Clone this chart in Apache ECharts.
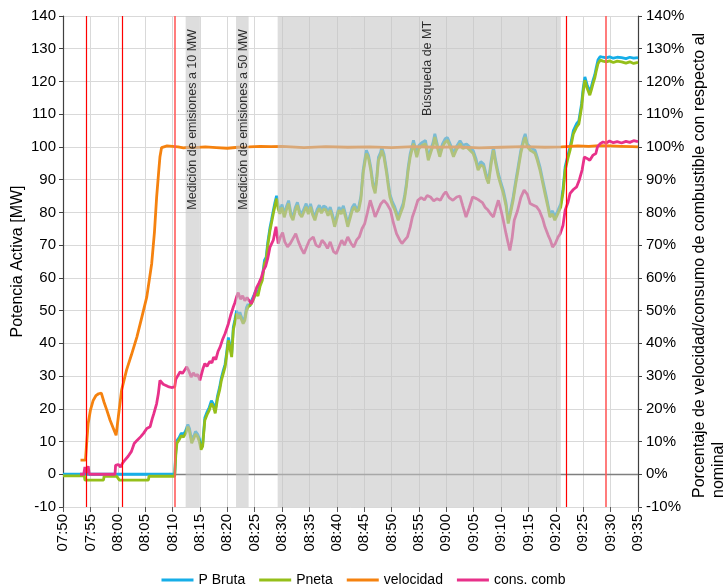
<!DOCTYPE html>
<html>
<head>
<meta charset="utf-8">
<script src="https://cdn.jsdelivr.net/npm/echarts@6/dist/echarts.min.js"></script>
<style>html,body{margin:0;padding:0;background:#fff}#c{width:727px;height:587px}</style>
</head>
<body>
<div id="c"></div>
<script>
// x values: minutes after 07:50
const xTickLabels = ['07:50','07:55','08:00','08:05','08:10','08:15','08:20','08:25','08:30','08:35','08:40','08:45','08:50','08:55','09:00','09:05','09:10','09:15','09:20','09:25','09:30','09:35'];
const yLeftTicks = [-10,0,10,20,30,40,50,60,70,80,90,100,110,120,130,140];

const pNeta = [[0,-0.5],[3.9,-0.5],[4.0,-1.8],[7.4,-1.8],[7.5,-0.6],[9.8,-0.6],[10.3,-1.8],[15.6,-1.8],[15.7,-0.6],[20.4,-0.6],
[20.6,6],[20.8,9.5],[21.2,10.5],[21.6,11.8],[22.0,11.4],[22.4,12.5],[22.8,14.5],[23.1,13.2],[23.5,9.5],[23.9,11.0],[24.2,12.3],[24.6,11.4],[24.9,10],[25.2,7.5],[25.5,8.5],[25.9,16.5],[26.3,18.2],[26.7,19.5],[27.1,21.6],[27.5,20.5],[27.8,18.6],[28.2,23],[28.6,25.7],[28.9,28.5],[29.3,31],[29.6,32.8],[29.9,36.5],[30.2,40.9],[30.5,38.5],[30.8,35.8],[31.1,44],[31.4,46.5],[31.7,49.1],[32.0,47.5],[32.3,48.6],[32.6,47.2],[32.9,46],[33.2,47],[33.5,50],[33.8,51.1],[34.1,50.5],[34.4,52.1],[34.8,53.5],[35.2,55.2],[35.6,54.5],[36.0,57.5],[36.4,59.3],[36.8,64.5],[37.1,65.4],[37.4,70],[37.8,74.5],[38.1,77],[38.4,79.6],[38.7,82],[39.0,84.2],[39.3,81],[39.6,79.6],
[40.0,81.5],[40.4,78.5],[40.8,80.8],[41.2,82.7],[41.6,79],[42.0,77.6],[42.4,80.5],[42.8,82.2],[43.2,79.5],[43.6,78.6],[44.0,80.2],[44.4,81.7],[44.8,79.5],[45.2,81.7],[45.6,79.2],[46.0,77.6],[46.4,80],[46.8,81.2],[47.2,79.8],[47.6,81],[48.0,80.7],[48.4,79],[48.8,80.7],[49.2,78.5],[49.6,75.6],[50.0,78],[50.4,80.7],[50.8,79.5],[51.2,81],[51.6,78.5],[52.0,75.6],[52.4,78],[52.8,80.5],[53.2,81.7],[53.6,80.2],[54.0,80.7],[54.4,84],[54.8,91.9],[55.1,95],[55.4,98],[55.8,96.5],[56.2,92.9],[56.6,88],[57.0,85.8],[57.3,90],[57.6,95.9],[58.0,97.5],[58.2,99],[58.6,97],[59.1,91.9],[59.4,88],[59.7,84.7],[60.1,82.5],[60.6,80.7],[61.2,77.6],[61.6,79.5],[62.1,81.7],[62.4,84.5],[62.7,87.8],[63.0,92.5],[63.4,96.9],[64.0,101],[64.6,96.9],[65.0,99.5],[65.6,100.5],[66.2,101],[66.7,95.9],[67.2,98.5],[67.6,100.5],[67.9,103],[68.4,99.5],[68.8,97],[69.3,100],[69.8,101.5],[70.2,102],[70.8,99.5],[71.3,97],[71.8,99],[72.5,101],[73.0,99.5],[73.7,100],[74.3,99],[74.9,98],[75.4,95.5],[75.8,92.9],[76.3,94.5],[76.8,93.9],[77.3,90.5],[77.7,88.8],[78.2,95],[78.6,99],[79.0,95],[79.5,90.9],[80.0,88],[80.4,85.8],[80.9,82],[81.3,76.6],[81.7,79.5],[82.2,83.7],[82.6,88],[83.1,92.9],[83.6,98],[84.1,101.5],[84.4,103],[84.8,100],[85.3,99],[85.8,98.5],[86.2,98],[86.6,96],[87.1,92.9],[87.6,89],[88.0,85.8],[88.5,82],[88.9,78.6],[89.4,79.5],[89.8,77.6],[90.2,79],[90.6,80.5],[90.9,81.7],[91.3,86],[91.7,92.9],[92.2,96.5],[92.6,99],[93.2,104],[93.8,106.1],[94.2,107],[94.7,112.2],[95.0,117],[95.3,120.4],[95.7,118],[96.2,115.8],[96.5,117.5],[96.8,119.4],[97.1,121],[97.4,123.4],[97.7,125.5],[98.1,126.5],[98.6,126.2],[99.2,126],[99.8,126.3],[100.5,125.8],[101.2,126.2],[102,126],[102.8,125.6],[103.5,126],[104.2,125.5],[105,125.8]];

const pBruta = [[0,0],[20.4,0],[20.6,7],[20.8,10.3],[21.2,11.2],[21.6,12.6],[22.0,12.1],[22.4,13.3],[22.8,15.2],[23.1,14],[23.5,10.3],[23.9,11.8],[24.2,13.1],[24.6,12.2],[24.9,10.8],[25.2,8.3],[25.5,9.2],[25.9,17.3],[26.3,19],[26.7,20.4],[27.1,22.5],[27.5,21.3],[27.8,19.4],[28.2,23.8],[28.6,26.6],[28.9,29.3],[29.3,31.9],[29.6,33.6],[29.9,37.4],[30.2,41.8],[30.5,39.3],[30.8,36.7],[31.1,44.9],[31.4,47.3],[31.7,50],[32.0,48.4],[32.3,49.5],[32.6,48],[32.9,46.9],[33.2,47.8],[33.5,50.9],[33.8,52],[34.1,51.3],[34.4,53],[34.8,54.4],[35.2,56.1],[35.6,55.3],[36.0,58.4],[36.4,60.2],[36.8,65.4],[37.1,66.3],[37.4,70.9],[37.8,75.4],[38.1,77.9],[38.4,80.5],[38.7,83],[39.0,85.1],[39.3,82],[39.6,80.5],[40.0,82.4],[40.4,79.4],[40.8,81.8],[41.2,83.6],[41.6,80],[42.0,78.5],[42.4,81.4],[42.8,83.1],[43.2,80.5],[43.6,79.5],[44.0,81.1],[44.4,82.7],[44.8,80.4],[45.2,82.6],[45.6,80.1],[46.0,78.6],[46.4,80.9],[46.8,82.2],[47.2,80.7],[47.6,82],[48.0,81.6],[48.4,80],[48.8,81.6],[49.2,79.4],[49.6,76.5],[50.0,79],[50.4,81.6],[50.8,80.4],[51.2,82],[51.6,79.4],[52.0,76.6],[52.4,78.9],[52.8,81.5],[53.2,82.6],[53.6,81.1],[54.0,81.7],[54.4,85],[54.8,92.8],[55.1,96],[55.4,99],[55.8,97.4],[56.2,93.8],[56.6,89],[57.0,86.7],[57.3,91],[57.6,96.8],[58.0,98.4],[58.2,100],[58.6,97.9],[59.1,92.8],[59.4,89],[59.7,85.6],[60.1,83.5],[60.6,81.6],[61.2,78.6],[61.6,80.4],[62.1,82.7],[62.4,85.4],[62.7,88.8],[63.0,93.4],[63.4,97.9],[64.0,102],[64.6,97.8],[65.0,100.5],[65.6,101.4],[66.2,102],[66.7,96.9],[67.2,99.4],[67.6,101.5],[67.9,104],[68.4,100.4],[68.8,98],[69.3,100.9],[69.8,102.5],[70.2,102.9],[70.8,100.5],[71.3,97.9],[71.8,100],[72.5,101.9],[73.0,100.5],[73.7,100.9],[74.3,100],[74.9,98.9],[75.4,96.5],[75.8,93.8],[76.3,95.5],[76.8,94.8],[77.3,91.5],[77.7,89.7],[78.2,96],[78.6,100],[79.0,95.9],[79.5,91.9],[80.0,88.9],[80.4,86.8],[80.9,82.9],[81.3,77.6],[81.7,80.4],[82.2,84.7],[82.6,88.9],[83.1,93.9],[83.6,98.9],[84.1,102.5],[84.4,104],[84.8,100.9],[85.3,100],[85.8,99.4],[86.2,99],[86.6,96.9],[87.1,93.9],[87.6,89.9],[88.0,86.8],[88.5,82.9],[88.9,79.6],[89.4,80.4],[89.8,78.6],[90.2,79.9],[90.6,81.5],[90.9,82.6],[91.3,87],[91.7,93.9],[92.2,97.4],[92.6,100],[93.2,105],[93.8,107.1],[94.2,108],[94.7,113.2],[95.0,118],[95.3,121.4],[95.7,119],[96.2,116.8],[96.5,118.5],[96.8,120.4],[97.1,122],[97.4,124.4],[97.7,126.6],[98.1,127.6],[98.6,127.4],[99.2,127.2],[99.8,127.5],[100.5,127.1],[101.2,127.4],[102,127.3],[102.8,127],[103.5,127.4],[104.2,127.1],[105,127.3]];

const velocidad = [[3.2,4.3],[4.1,4.3],[4.3,9],[4.6,15.6],[5.0,19.5],[5.5,22.5],[6.0,24],[6.5,24.6],[7.0,24.8],[7.5,22],[8.0,19.6],[8.6,16.5],[9.2,14],[9.7,11.9],[10.1,17.5],[10.7,25.7],[11.6,31.8],[12.5,36.5],[13.5,42],[14.4,48],[15.3,54.2],[16.2,64.4],[16.7,74],[17.1,84.7],[17.5,93],[17.7,96.9],[18.0,99.8],[18.2,100.2],[19,100.3],[20,100.2],[21,100],[22,99.7],[23,99.9],[24,99.8],[26,100],[28,99.8],[30,99.6],[32,99.9],[34,100],[36,100.2],[38,100.1],[40,100.2],[44,99.8],[48,100.1],[52,99.9],[56,100],[60,99.8],[64,100.1],[68,99.9],[72,100],[76,99.7],[80,99.9],[84,100.1],[88,99.9],[91,100],[92,100.1],[94,100.3],[96,100.2],[98,100.4],[100,100.3],[102,100.2],[104,100.1],[105,100]];

const consComb = [[3.1,0],[3.8,0],[4.0,2.2],[4.3,0.5],[4.6,2.5],[4.8,0],[9.5,0],[9.6,2.7],[10.1,3],[10.5,2.2],[10.9,3.5],[11.3,4.3],[11.9,5.5],[12.5,7],[13.0,9.4],[13.6,10.5],[14.2,11.5],[14.7,12.5],[15.3,14],[15.9,14.5],[16.3,17],[16.6,18.6],[17.1,21.6],[17.4,24.5],[17.7,28.7],[17.9,29],[18.3,27.5],[18.6,27.2],[19.2,26.8],[19.8,26.5],[20.4,26.7],[20.6,29],[21.0,30.2],[21.4,31.3],[21.8,30.8],[22.2,31.8],[22.6,32.8],[23.0,31.5],[23.4,29.7],[23.8,31],[24.2,30],[24.6,30.5],[25.0,28.7],[25.3,29],[25.6,32.5],[25.9,33.8],[26.3,33],[26.8,34.5],[27.2,34],[27.5,35.8],[27.9,35],[28.3,37.5],[28.7,38.9],[29.1,41],[29.6,43],[30.2,46],[30.6,48.5],[31.1,51.1],[31.4,52.5],[31.7,54.2],[32.0,55.5],[32.4,53.5],[32.8,54.5],[33.2,53],[33.6,54],[33.9,53.2],[34.4,52.1],[34.8,54],[35.4,57.2],[35.8,58.5],[36.2,60],[36.6,62.3],[37.0,63.5],[37.4,66],[37.8,69.4],[38.4,71.5],[38.9,75.6],[39.3,70.5],[39.7,72.5],[40.1,73.8],[40.5,71],[41.0,69.5],[41.5,70.5],[42.0,72],[42.5,73.5],[43.0,71],[43.5,69],[44.0,67.4],[44.5,69.5],[45.0,71.5],[45.7,72.5],[46.2,70],[46.8,69.4],[47.3,71.5],[47.8,70.5],[48.3,69],[48.8,71],[49.4,68],[49.9,67.4],[50.4,69.5],[50.9,71.5],[51.4,70],[52.0,72.5],[52.6,70.5],[53.1,69.4],[53.6,71.5],[54.1,72.5],[54.6,75],[55.1,76.6],[55.6,80],[56.1,83.7],[56.6,81],[57.0,78.6],[57.5,80.5],[58.0,82.5],[58.6,83.7],[59.2,82.5],[59.8,80.7],[60.3,77],[60.9,73.5],[61.5,71.5],[61.9,70.5],[62.4,71.5],[62.9,72.5],[63.4,75.5],[63.8,78.6],[64.3,81],[64.8,83.7],[65.4,84.5],[66.0,83.8],[66.5,85.2],[67.1,84.7],[67.7,83.5],[68.3,84.2],[68.9,83.7],[69.5,85.5],[69.9,86.3],[70.5,84.5],[71.2,83.7],[71.9,84.7],[72.5,85],[73.0,82],[73.6,78.6],[74.2,81.5],[74.8,84.7],[75.5,84.2],[76.0,83.7],[76.6,83],[77.1,81.5],[77.6,80.7],[78.1,79.5],[78.6,78.6],[79.0,81],[79.5,83.7],[80.0,80.5],[80.4,77.6],[80.9,73.5],[81.3,70.5],[81.6,68.4],[82.0,72],[82.4,77.6],[83.0,80.5],[83.6,84.5],[84.2,86.8],[84.8,85.5],[85.3,82.7],[85.9,82.2],[86.5,81.7],[87.0,80.5],[87.6,78],[88.0,75.6],[88.6,73],[89.0,71.5],[89.4,69.4],[89.9,70.5],[90.4,72.5],[90.8,73.5],[91.3,76],[91.7,80.7],[92.2,83],[92.6,85.8],[93.2,87],[93.8,87.8],[94.3,90],[94.8,93],[95.2,96.9],[95.7,96.5],[96.2,95.9],[96.8,97.5],[97.3,98],[97.6,100],[98.1,101],[98.6,101.5],[99.2,101.2],[99.8,101.8],[100.5,101.3],[101.2,101.6],[102,101.2],[102.8,101.7],[103.5,101.4],[104.2,101.9],[105,101.6]];

const redLines = [4.2, 10.8, 20.4, 91.85, 99.1];
const redColors = ['#ff0000','#ff0000','#ff5c5c','#ff0000','#ff5c5c'];
const shadedSpans = [[22.4,25.0],[31.6,33.9],[39.2,90.9]];
const annotations = [
  {name:'Medición de emisiones a 10 MW', value:[23.7,136]},
  {name:'Medición de emisiones a 50 MW', value:[32.9,136]},
  {name:'Búsqueda de MT', value:[66.6,138.5]}
];

const FONT = 'Liberation Sans, Arial, sans-serif';
const chart = echarts.init(document.getElementById('c'), null, {renderer:'canvas'});

const lineBase = (name, data, color, yIdx, z) => ({
  name, type:'line', data, yAxisIndex:yIdx, showSymbol:false, symbol:'none',
  lineStyle:{color, width:2.8}, itemStyle:{color}, z, animation:false
});

chart.setOption({
  animation:false,
  textStyle:{fontFamily:FONT},
  grid:{left:63, right:89, top:16, bottom:80, outerBoundsMode:'none', containLabel:false},
  legend:{
    data:['P Bruta','Pneta','velocidad','cons. comb'],
    top:568, left:'center', icon:'rect', itemWidth:32, itemHeight:3, itemGap:14,
    textStyle:{fontFamily:FONT, fontSize:14, color:'#000'}
  },
  xAxis:{
    type:'value', min:0, max:105, interval:5,
    axisLine:{show:true, onZero:false, lineStyle:{color:'#d9d9d9'}},
    axisTick:{show:true, length:5, lineStyle:{color:'#595959'}},
    splitLine:{show:true, lineStyle:{color:'#d9d9d9', width:1}},
    axisLabel:{rotate:90, fontSize:15, color:'#000', fontFamily:FONT, margin:7,
      formatter:v => xTickLabels[Math.round(v/5)]}
  },
  yAxis:[{
    type:'value', min:-10, max:140, interval:10,
    name:'Potencia Activa [MW]', nameLocation:'middle', nameGap:37, nameRotate:90, nameMoveOverlap:false,
    nameTextStyle:{fontSize:16, color:'#000', fontFamily:FONT},
    axisLine:{show:true, lineStyle:{color:'#404040', width:1.2}},
    axisTick:{show:true, length:4, lineStyle:{color:'#404040'}},
    splitLine:{show:true, lineStyle:{color:'#d9d9d9'}},
    axisLabel:{fontSize:15, color:'#000', fontFamily:FONT, margin:7,
      formatter:v => String(yLeftTicks[Math.round((v+10)/10)])}
  },{
    type:'value', min:-10, max:140, interval:10, position:'right',
    axisLine:{show:true, lineStyle:{color:'#404040', width:1.2}},
    axisTick:{show:true, length:4, lineStyle:{color:'#404040'}},
    splitLine:{show:false},
    axisLabel:{fontSize:15, color:'#000', fontFamily:FONT, margin:8, formatter:'{value}%'}
  }],
  graphic:[{
    type:'text', x:709, y:498, rotation:Math.PI/2,
    style:{text:'Porcentaje de velocidad/consumo de combustible con respecto al\nnominal',
      fontSize:16, fontFamily:FONT, fill:'#000', align:'left', verticalAlign:'middle', lineHeight:19}
  }],
  series:[
    {type:'line', data:[], yAxisIndex:0, z:1, silent:true,
      markLine:{silent:true, z:2, symbol:'none', label:{show:false},
        lineStyle:{color:'#7f7f7f', width:1.3, type:'solid'},
        data:[{yAxis:0}]}},
    lineBase('P Bruta', pBruta, '#16aee8', 0, 3),
    lineBase('Pneta', pNeta, '#95bf1a', 0, 4),
    lineBase('velocidad', velocidad, '#f5820f', 1, 5),
    lineBase('cons. comb', consComb, '#e8318a', 1, 6),
    {type:'line', data:[], yAxisIndex:0, z:10, silent:true,
      markArea:{silent:true, z:10, itemStyle:{color:'rgba(196,196,196,0.58)'},
        data: shadedSpans.map(s => [{xAxis:s[0], yAxis:-10},{xAxis:s[1], yAxis:140}])}},
    {type:'line', data:[], yAxisIndex:0, z:11, silent:true,
      markLine:{silent:true, z:11, symbol:'none', label:{show:false},
        data: redLines.map((x,i) => ({xAxis:x, lineStyle:{color:redColors[i], width:i===2||i===4?1.6:1.2, type:'solid'}}))}},
    {type:'scatter', data:annotations, yAxisIndex:0, symbolSize:0, z:12, silent:true,
      label:{show:true, formatter:p => p.name, rotate:90, position:'inside', align:'right', verticalAlign:'middle',
        fontSize:12.5, color:'#000', fontFamily:FONT}}
  ]
});
</script>
</body>
</html>
